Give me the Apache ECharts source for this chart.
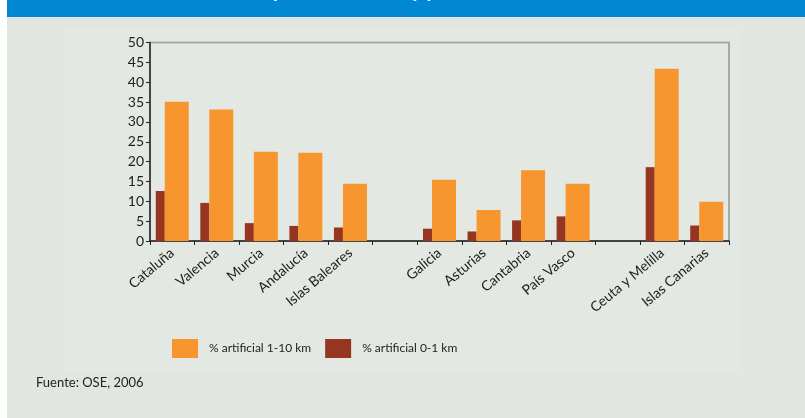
<!DOCTYPE html>
<html>
<head>
<meta charset="utf-8">
<script src="https://cdn.jsdelivr.net/npm/echarts@6/dist/echarts.min.js"></script>
<style>
html,body{margin:0;padding:0;background:#ffffff;}
#chart{width:805px;height:418px;}
</style>
</head>
<body>
<div id="chart"></div>
<script>
const categories = ['Cataluña','Valencia','Murcia','Andalucía','Islas Baleares','','Galicia','Asturias','Cantabria','País Vasco','','Ceuta y Melilla','Islas Canarias'];
const artificial0to1 = [12.6, 9.6, 4.5, 3.8, 3.4, null, 3.1, 2.4, 5.2, 6.2, null, 18.6, 3.9];
const artificial1to10 = [35.1, 33.1, 22.5, 22.2, 14.4, null, 15.4, 7.8, 17.8, 14.4, null, 43.4, 9.9];
const yTicks = {min: 0, max: 50, interval: 5};
const seriesNames = ['% artificial 1-10 km', '% artificial 0-1 km'];

const font = 'Lato, "Open Sans", sans-serif';
const chart = echarts.init(document.getElementById('chart'), null, {renderer: 'canvas'});
chart.setOption({
  backgroundColor: '#e1e6e0',
  animation: false,
  graphic: [
    {type: 'rect', z: -10, shape: {x: 0, y: 0, width: 7, height: 418}, style: {fill: '#ffffff'}},
    {type: 'rect', z: -9, shape: {x: 65, y: 27, width: 677, height: 345}, style: {fill: '#e4e8e2'}},
    {type: 'rect', z: -5, shape: {x: 7, y: 0, width: 798, height: 17}, style: {fill: '#0089d2'}},
    {type: 'text', z: -4, left: 60, top: -19, style: {text: 'Artificialización costera por comunidad y provincia (2006)', fill: '#ffffff', font: 'bold 20px ' + font}},
    {type: 'text', left: 36, top: 376, style: {text: 'Fuente: OSE, 2006', fill: '#222222', font: '13px ' + font}}
  ],
  grid: {left: 150, right: 76, top: 42.5, bottom: 177, show: true, borderColor: '#a9aaa8', borderWidth: 2, backgroundColor: 'transparent'},
  legend: {
    left: 167, top: 334, itemWidth: 26, itemHeight: 19, itemGap: 14,
    icon: 'rect',
    data: seriesNames,
    textStyle: {fontFamily: font, fontSize: 12, color: '#1e1e1e', padding: [0, 0, 0, 6]}
  },
  xAxis: {
    type: 'category', data: categories,
    axisLine: {lineStyle: {color: '#222', width: 1.5}},
    axisTick: {show: true, interval: 0, length: 4, lineStyle: {color: '#222'}},
    axisLabel: {interval: 0, rotate: 40, fontFamily: font, fontSize: 14, color: '#1e1e1e', margin: 10}
  },
  yAxis: {
    type: 'value', min: yTicks.min, max: yTicks.max, interval: yTicks.interval,
    axisLine: {show: true, lineStyle: {color: '#222', width: 1.5}},
    axisTick: {show: true, length: 4, lineStyle: {color: '#222'}},
    splitLine: {show: false},
    axisLabel: {fontFamily: font, fontSize: 14, color: '#1e1e1e', margin: 6}
  },
  series: [
    {name: seriesNames[1], type: 'bar', data: artificial0to1, barWidth: 9, barGap: '0%', itemStyle: {color: '#963620'}},
    {name: seriesNames[0], type: 'bar', data: artificial1to10, barWidth: 24, barGap: '0%', itemStyle: {color: '#f7962e'}}
  ]
});
</script>
</body>
</html>
